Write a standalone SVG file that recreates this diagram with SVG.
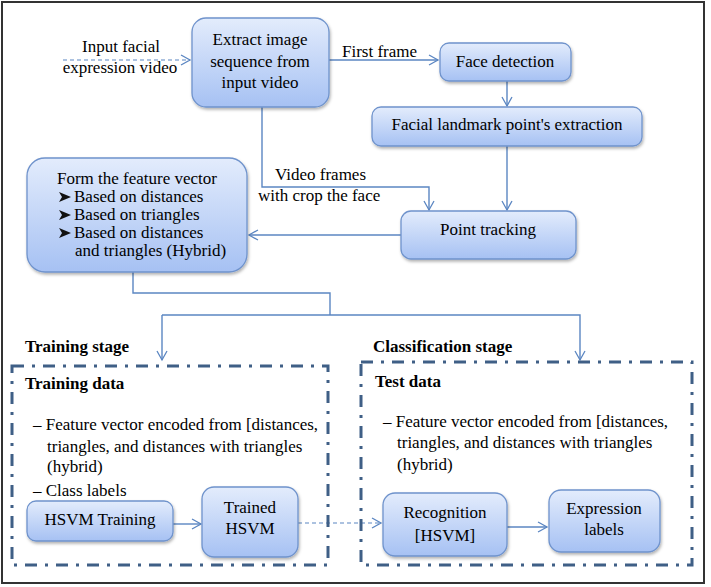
<svg xmlns="http://www.w3.org/2000/svg" width="711" height="587" viewBox="0 0 711 587" font-family="Liberation Serif" font-size="17">
<style>
text{font-family:'Liberation Serif',serif !important;font-size:17px}
.c{text-anchor:middle}
.b{font-weight:bold}
.node{fill:url(#g);stroke:#6f93cc;stroke-width:1.3;filter:url(#sh)}
.ln{fill:none;stroke:#5b86c2;stroke-width:1.4}
.dl{fill:none;stroke:#5b86c2;stroke-width:1.2;stroke-dasharray:4 3}
.box{fill:none;stroke:#3f5f86;stroke-width:3;stroke-dasharray:12 8 3 8}
.bul{fill:#111}
</style>
<defs>
<linearGradient id="g" x1="0" y1="0" x2="0" y2="1">
<stop offset="0" stop-color="#e3ecfc"/>
<stop offset="1" stop-color="#a6c1f3"/>
</linearGradient>
<filter id="sh" x="-10%" y="-10%" width="130%" height="140%">
<feDropShadow dx="1" dy="2" stdDeviation="1.5" flood-color="#000" flood-opacity="0.3"/>
</filter>
<marker id="a" markerWidth="12" markerHeight="12" refX="10" refY="6" orient="auto" markerUnits="userSpaceOnUse">
<path d="M1,1 L10,6 L1,11" fill="none" stroke="#5b86c2" stroke-width="1.3"/>
</marker>
</defs>
<rect x="2" y="2" width="702" height="581" fill="#fff" stroke="#333" stroke-width="2"/>

<g id="connectors">
<path class="dl" d="M63,60 H190" marker-end="url(#a)"/>
<path class="ln" d="M329,60 H438" marker-end="url(#a)"/>
<path class="ln" d="M507,81 V106" marker-end="url(#a)"/>
<path class="ln" d="M507,146 V210" marker-end="url(#a)"/>
<path class="ln" d="M262,107 V187 H429 V210" marker-end="url(#a)"/>
<path class="ln" d="M401,235 H249" marker-end="url(#a)"/>
<path class="ln" d="M133,272 V293 H330 V315"/>
<path class="ln" d="M162,315 H580 V360" marker-end="url(#a)"/>
<path class="ln" d="M162,315 V360" marker-end="url(#a)"/>
<path class="ln" d="M173,524 H201" marker-end="url(#a)"/>
<path class="dl" d="M298,523 H381" marker-end="url(#a)"/>
<path class="ln" d="M507,527 H547" marker-end="url(#a)"/>
</g>

<g id="input-label">
<text class="c" x="121" y="52" style="font-family:'Liberation Serif',serif">Input facial</text>
<text class="c" x="120" y="73" style="font-family:'Liberation Serif',serif">expression video</text>
</g>
<g id="first-frame-label"><text x="342" y="57" style="font-family:'Liberation Serif',serif">First frame</text></g>
<g id="video-frames-label">
<text x="275" y="180" style="font-family:'Liberation Serif',serif">Video frames</text>
<text x="258" y="201" style="font-family:'Liberation Serif',serif">with crop the face</text>
</g>

<g id="extract">
<rect class="node" x="192" y="18" width="137" height="89" rx="14"/>
<text class="c" x="260" y="45" style="font-family:'Liberation Serif',serif">Extract image</text>
<text class="c" x="260" y="67" style="font-family:'Liberation Serif',serif">sequence from</text>
<text class="c" x="260" y="88" style="font-family:'Liberation Serif',serif">input video</text>
</g>
<g id="face-detection">
<rect class="node" x="440" y="43" width="131" height="38" rx="9"/>
<text class="c" x="505" y="67" style="font-family:'Liberation Serif',serif">Face detection</text>
</g>
<g id="landmark">
<rect class="node" x="372" y="107" width="270" height="39" rx="9"/>
<text class="c" x="507" y="130" style="font-family:'Liberation Serif',serif">Facial landmark point's extraction</text>
</g>
<g id="point-tracking">
<rect class="node" x="401" y="211" width="175" height="48" rx="10"/>
<text class="c" x="488" y="235" style="font-family:'Liberation Serif',serif">Point tracking</text>
</g>
<g id="feature-vector">
<rect class="node" x="27" y="158" width="220" height="114" rx="18"/>
<text class="c" x="137" y="184" style="font-family:'Liberation Serif',serif">Form  the feature vector</text>
<path class="bul" d="M59,192 L71,197 L59,202 L62,197 Z"/>
<text x="74" y="202" style="font-family:'Liberation Serif',serif">Based on distances</text>
<path class="bul" d="M59,210 L71,215 L59,220 L62,215 Z"/>
<text x="74" y="220" style="font-family:'Liberation Serif',serif">Based on triangles</text>
<path class="bul" d="M59,228 L71,233 L59,238 L62,233 Z"/>
<text x="74" y="238" style="font-family:'Liberation Serif',serif">Based on distances</text>
<text x="75" y="256" style="font-family:'Liberation Serif',serif">and triangles (Hybrid)</text>
</g>

<g id="training-stage">
<text class="b" x="25" y="352" style="font-family:'Liberation Serif',serif">Training stage</text>
<rect class="box" x="12" y="366" width="316" height="199"/>
<text class="b" x="25" y="389" style="font-family:'Liberation Serif',serif">Training data</text>
<text x="33" y="430" style="font-family:'Liberation Serif',serif">–  Feature vector encoded from [distances,</text>
<text x="47" y="452" style="font-family:'Liberation Serif',serif">triangles,  and distances with triangles</text>
<text x="47" y="472" style="font-family:'Liberation Serif',serif">(hybrid)</text>
<text x="33" y="496" style="font-family:'Liberation Serif',serif">–  Class labels</text>
</g>
<g id="hsvm-training">
<rect class="node" x="27" y="501" width="146" height="40" rx="9"/>
<text class="c" x="100" y="525" style="font-family:'Liberation Serif',serif">HSVM Training</text>
</g>
<g id="trained-hsvm">
<rect class="node" x="202" y="487" width="96" height="70" rx="12"/>
<text class="c" x="250" y="513" style="font-family:'Liberation Serif',serif">Trained</text>
<text class="c" x="250" y="534" style="font-family:'Liberation Serif',serif">HSVM</text>
</g>

<g id="classification-stage">
<text class="b" x="373" y="352" style="font-family:'Liberation Serif',serif">Classification stage</text>
<rect class="box" x="361" y="362" width="331" height="203"/>
<text class="b" x="375" y="387" style="font-family:'Liberation Serif',serif">Test data</text>
<text x="383" y="427" style="font-family:'Liberation Serif',serif">–  Feature vector encoded from [distances,</text>
<text x="397" y="448" style="font-family:'Liberation Serif',serif">triangles,  and distances with triangles</text>
<text x="397" y="470" style="font-family:'Liberation Serif',serif">(hybrid)</text>
</g>
<g id="recognition">
<rect class="node" x="383" y="493" width="124" height="63" rx="12"/>
<text class="c" x="445" y="518" style="font-family:'Liberation Serif',serif">Recognition</text>
<text class="c" x="445" y="541" style="font-family:'Liberation Serif',serif">[HSVM]</text>
</g>
<g id="expression-labels">
<rect class="node" x="549" y="490" width="111" height="62" rx="12"/>
<text class="c" x="604" y="514" style="font-family:'Liberation Serif',serif">Expression</text>
<text class="c" x="604" y="535" style="font-family:'Liberation Serif',serif">labels</text>
</g>
</svg>
